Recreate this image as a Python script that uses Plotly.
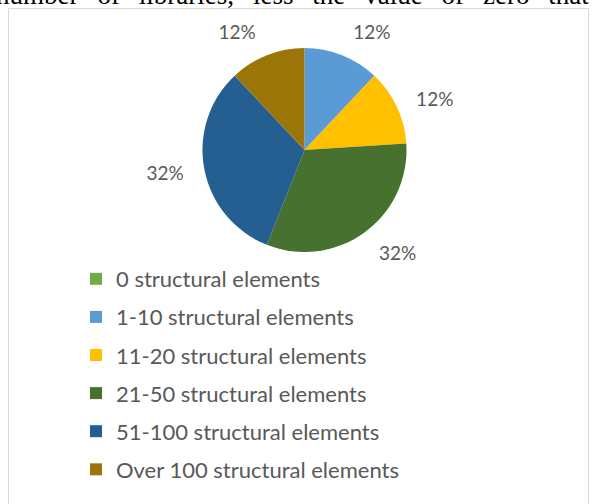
import plotly.graph_objects as go

# Share of libraries by number of structural elements
categories = [
    "0 structural elements",
    "1-10 structural elements",
    "11-20 structural elements",
    "21-50 structural elements",
    "51-100 structural elements",
    "Over 100 structural elements",
]
shares = [0, 12, 12, 32, 32, 12]
colors = ["#70AD47", "#5B9BD5", "#FFC000", "#46712F", "#255E91", "#9C7508"]

W, H = 595, 504
TEXT_GREY = "#595959"
CX, CY, R = 304.5, 150, 102      # pie centre and radius, px
R_LABEL = 117                    # radius of the ring the % labels sit outside of


def domain_for(radius):
    return dict(x=[(CX - radius) / W, (CX + radius) / W],
                y=[(H - CY - radius) / H, (H - CY + radius) / H])


fig = go.Figure()

# coloured pie, no text
fig.add_trace(go.Pie(
    labels=categories, values=shares, sort=False,
    direction="clockwise", rotation=0,
    marker=dict(colors=colors, line=dict(width=0)),
    textinfo="none", showlegend=False,
    domain=domain_for(R),
    hoverinfo="label+percent",
))

# transparent ring carrying the outside percentage labels
slice_text = [f"{v}%" if v > 0 else "" for v in shares]
fig.add_trace(go.Pie(
    labels=categories, values=shares, sort=False,
    direction="clockwise", rotation=0,
    marker=dict(colors=["rgba(0,0,0,0)"] * len(shares), line=dict(width=0)),
    text=slice_text, textinfo="text", textposition="outside",
    textfont=dict(family="Lato, sans-serif", size=19, color=TEXT_GREY),
    showlegend=False, hoverinfo="skip",
    domain=domain_for(R_LABEL),
))

# legend entries (one group each so the gap sets the row spacing)
for name, col in zip(categories, colors):
    fig.add_trace(go.Scatter(
        x=[None], y=[None], mode="markers", name=name,
        legendgroup=name,
        marker=dict(symbol="square", size=12, color=col),
    ))

# justified body-text line running along the top edge of the page
gap = "\u00a0\u00a0\u2009"
heading = gap.join("number of libraries, less the value of zero that".split(" "))

fig.update_layout(
    width=W, height=H,
    margin=dict(l=0, r=0, t=0, b=0),
    paper_bgcolor="white",
    plot_bgcolor="white",
    xaxis=dict(visible=False),
    yaxis=dict(visible=False),
    legend=dict(
        x=76 / W, y=(H - 258) / H, xanchor="left", yanchor="top",
        font=dict(family="Lato, sans-serif", size=22, color=TEXT_GREY),
        tracegroupgap=6.5, itemwidth=30,
        bgcolor="rgba(0,0,0,0)",
    ),
    shapes=[dict(
        type="rect", xref="paper", yref="paper",
        x0=8.5 / W, x1=588.5 / W, y0=-0.01, y1=(H - 8.5) / H,
        line=dict(color="#D9D9D9", width=1), fillcolor="rgba(0,0,0,0)",
        layer="below",
    )],
    annotations=[dict(
        text=heading,
        xref="paper", yref="paper", x=-6 / W, y=(H + 22) / H,
        xanchor="left", yanchor="top", showarrow=False,
        font=dict(family="Liberation Serif, serif", size=27, color="black"),
    )],
)

fig.write_html("out.html")
